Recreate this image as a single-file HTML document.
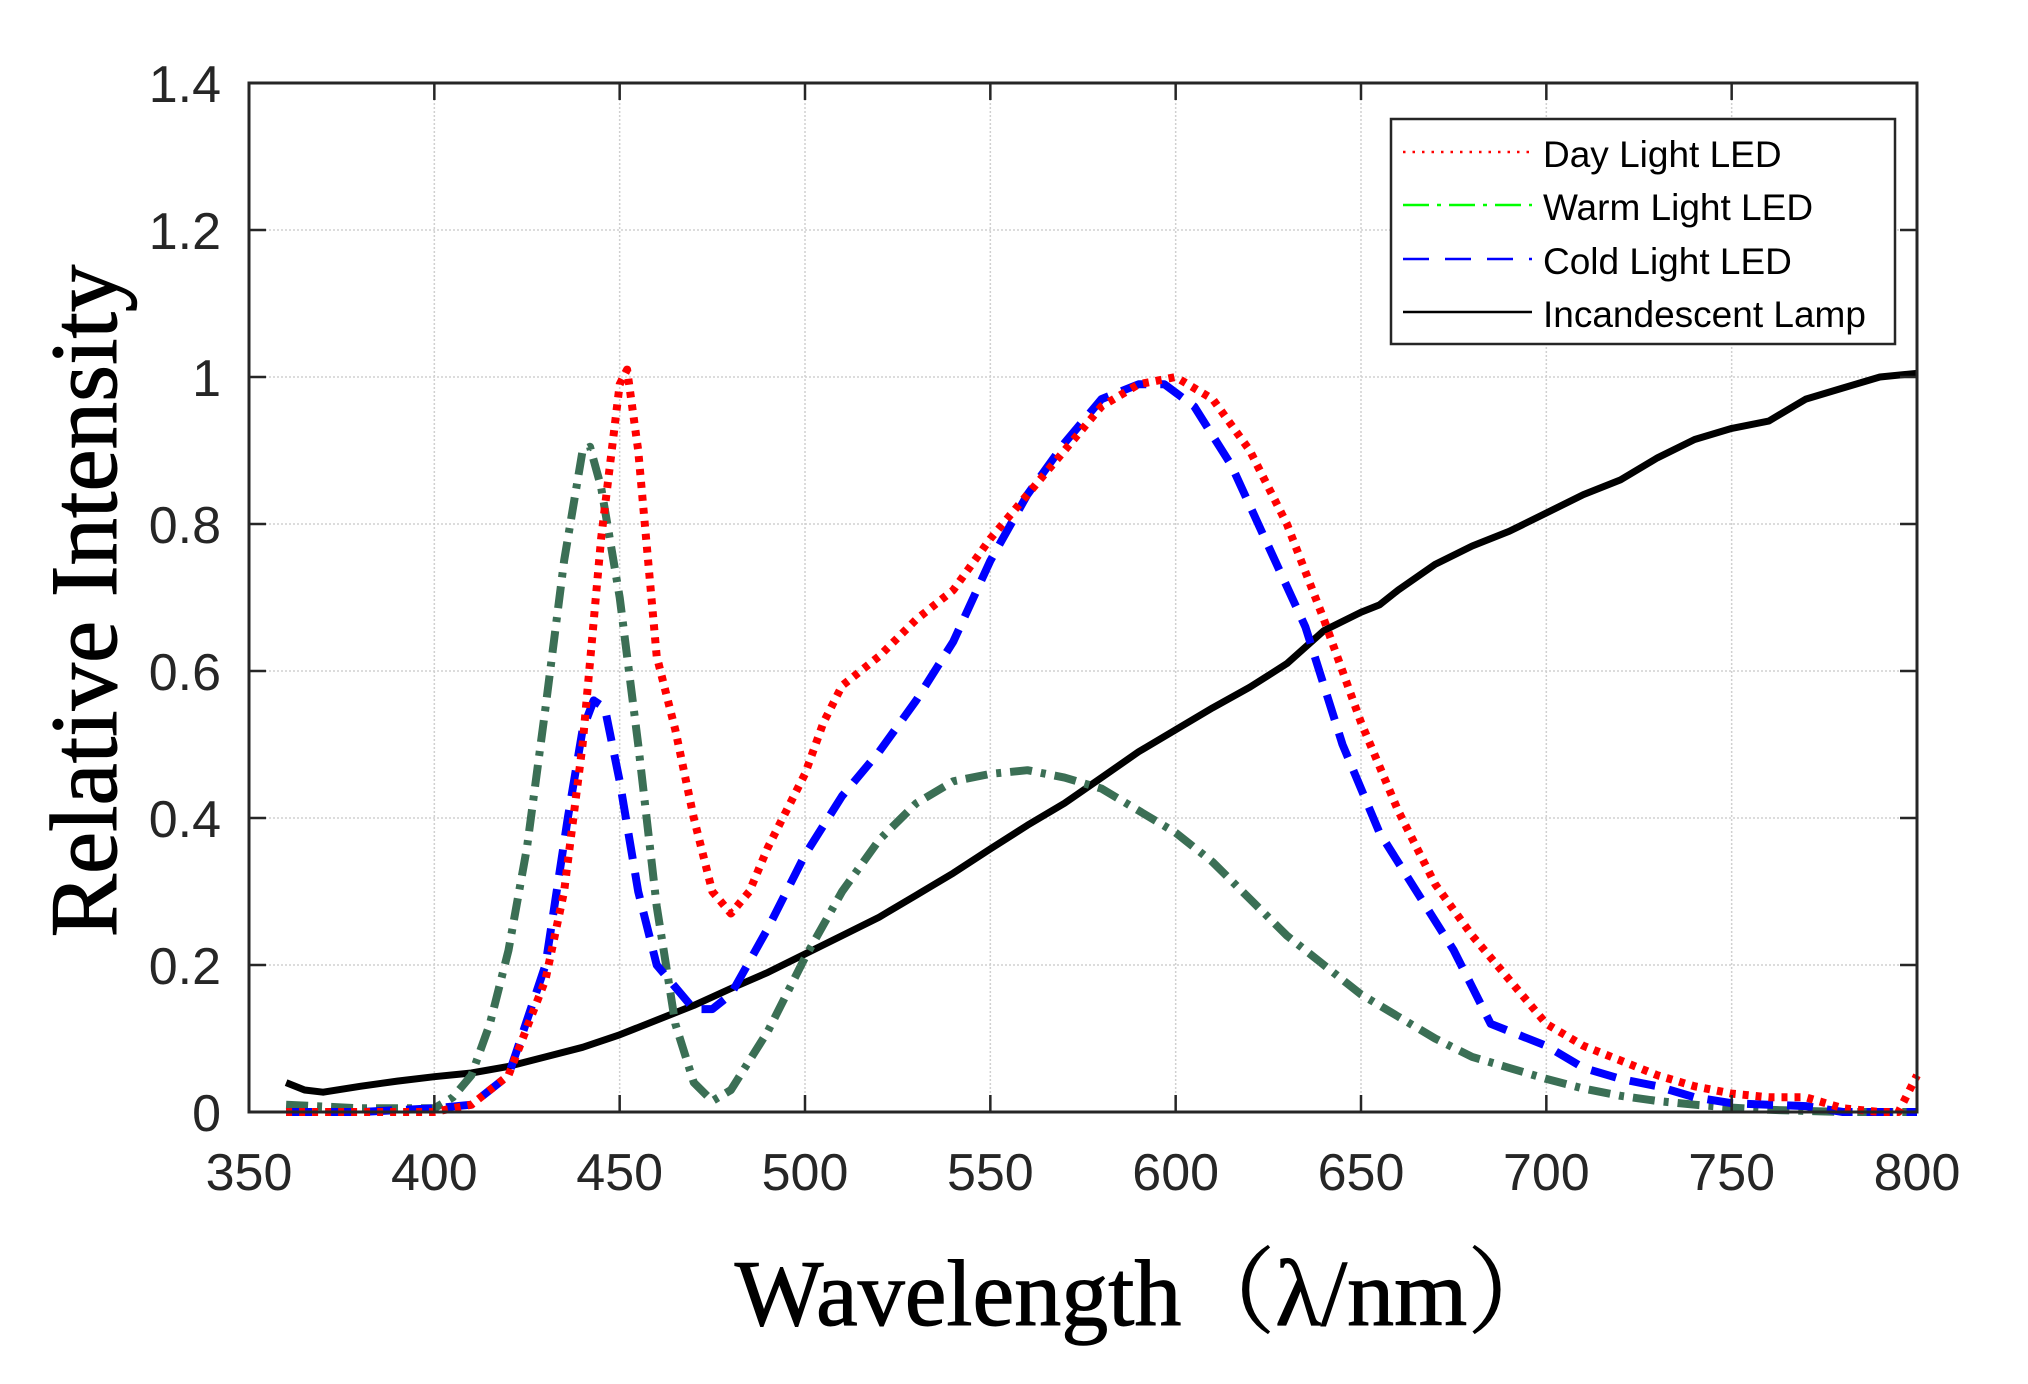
<!DOCTYPE html>
<html><head><meta charset="utf-8"><style>
html,body{margin:0;padding:0;background:#fff;}
svg{display:block;}
</style></head><body>
<svg id="chart" width="2028" height="1384" viewBox="0 0 2028 1384" xmlns="http://www.w3.org/2000/svg">
<g id="grid"></g>
<g id="series"></g>
<g id="axes"></g>
<g id="legend">
  <rect x="1391" y="119" width="504" height="225" fill="#fff" stroke="#262626" stroke-width="2.5"/>
  <line x1="1403" y1="152" x2="1532" y2="152" stroke="#ff0000" stroke-width="2.5" stroke-dasharray="2.5 7"/>
  <text x="1543" y="167" font-family="Liberation Sans, sans-serif" font-size="37">Day Light LED</text>
  <line x1="1403" y1="205" x2="1532" y2="205" stroke="#00ff00" stroke-width="2.5" stroke-dasharray="26 8 4 8"/>
  <text x="1543" y="220" font-family="Liberation Sans, sans-serif" font-size="37">Warm Light LED</text>
  <line x1="1403" y1="259" x2="1532" y2="259" stroke="#0000ff" stroke-width="2.5" stroke-dasharray="26 16"/>
  <text x="1543" y="274" font-family="Liberation Sans, sans-serif" font-size="37">Cold Light LED</text>
  <line x1="1403" y1="312" x2="1532" y2="312" stroke="#000" stroke-width="2.5"/>
  <text x="1543" y="327" font-family="Liberation Sans, sans-serif" font-size="37">Incandescent Lamp</text>
</g>
<text transform="translate(116,601) rotate(-90)" text-anchor="middle" font-family="Liberation Serif, serif" font-size="95" stroke="#000" stroke-width="1">Relative Intensity</text>
<text x="1148" y="1325" text-anchor="middle" font-family="Liberation Serif, 'Noto Serif CJK SC', serif" font-size="94" stroke="#000" stroke-width="1">Wavelength（λ/nm）</text>
</svg>
<script>
const xTicks = [350,400,450,500,550,600,650,700,750,800];
const yTicks = [0,0.2,0.4,0.6,0.8,1,1.2,1.4];
const yTickLabels = ['0','0.2','0.4','0.6','0.8','1','1.2','1.4'];

const dayX = [360,380,400,410,420,430,435,440,445,450,452,455,460,465,470,475,480,485,490,500,505,510,520,530,540,550,560,570,580,590,600,610,620,630,640,650,660,670,680,690,700,710,720,730,740,750,760,770,780,790,795,800];
const dayY = [0,0,0,0.01,0.05,0.18,0.3,0.5,0.78,0.99,1.01,0.9,0.62,0.52,0.4,0.3,0.27,0.3,0.36,0.46,0.53,0.58,0.62,0.67,0.71,0.78,0.84,0.9,0.96,0.99,1.0,0.97,0.9,0.8,0.67,0.53,0.41,0.31,0.24,0.18,0.12,0.09,0.07,0.05,0.035,0.025,0.02,0.02,0.005,0,0,0.05];

const coldX = [360,380,400,410,420,430,436,440,443,446,450,455,460,470,475,480,490,500,510,520,530,540,550,560,570,580,590,597,605,615,625,635,645,655,665,675,680,685,690,700,710,720,730,740,750,760,770,780,800];
const coldY = [0,0,0.005,0.01,0.05,0.2,0.4,0.52,0.56,0.55,0.45,0.3,0.2,0.14,0.14,0.16,0.25,0.35,0.43,0.49,0.56,0.64,0.75,0.84,0.91,0.97,0.99,0.99,0.96,0.88,0.77,0.66,0.5,0.38,0.3,0.22,0.17,0.12,0.11,0.09,0.06,0.045,0.035,0.02,0.012,0.01,0.008,0,0];

const warmX = [360,380,400,405,410,415,420,425,430,435,440,442,445,450,455,460,465,470,475,480,490,500,510,520,530,540,550,560,570,580,590,600,610,620,630,640,650,660,670,680,690,700,710,720,730,740,750,760,780,800];
const warmY = [0.01,0.005,0.005,0.02,0.05,0.12,0.22,0.36,0.55,0.75,0.9,0.905,0.85,0.7,0.5,0.28,0.12,0.04,0.015,0.03,0.11,0.21,0.3,0.37,0.42,0.45,0.46,0.465,0.455,0.44,0.41,0.38,0.34,0.29,0.24,0.2,0.16,0.13,0.1,0.075,0.06,0.045,0.032,0.022,0.015,0.01,0.006,0.003,0,0];

const incX = [360,365,370,380,390,400,410,420,430,440,450,460,470,480,490,500,510,520,530,540,550,560,570,580,590,600,610,620,630,640,650,655,660,670,680,690,700,710,720,730,740,750,760,770,780,790,800];
const incY = [0.04,0.03,0.027,0.035,0.042,0.048,0.053,0.062,0.075,0.088,0.105,0.125,0.145,0.168,0.19,0.215,0.24,0.265,0.295,0.325,0.358,0.39,0.42,0.455,0.49,0.52,0.55,0.578,0.61,0.655,0.68,0.69,0.71,0.745,0.77,0.79,0.815,0.84,0.86,0.89,0.915,0.93,0.94,0.97,0.985,1.0,1.005];

const L=249,R=1917,T=83,B=1112;
const sx = v => L + (v-350)/(800-350)*(R-L);
const sy = v => B - v/1.4*(B-T);
const NS='http://www.w3.org/2000/svg';
function mk(tag, attrs, parent){const e=document.createElementNS(NS,tag);for(const k in attrs)e.setAttribute(k,attrs[k]);parent.appendChild(e);return e;}
const grid=document.getElementById('grid'), axes=document.getElementById('axes'), series=document.getElementById('series');

xTicks.forEach((t,i)=>{
  const x=sx(t);
  if(i>0&&i<xTicks.length-1){const g=mk('line',{x1:x,y1:T,x2:x,y2:B,stroke:'#d0d0d0','stroke-width':1.5,'stroke-dasharray':'2 2'},grid);
  
  }
  const a=mk('line',{x1:x,y1:B,x2:x,y2:B-17,stroke:'#262626','stroke-width':2.5},axes);
  
  
  const b=mk('line',{x1:x,y1:T,x2:x,y2:T+17,stroke:'#262626','stroke-width':2.5},axes);
  
  
  const tx=mk('text',{x:x,y:1190,'text-anchor':'middle','font-family':'Liberation Sans, sans-serif','font-size':52,fill:'#262626'},axes);
  tx.textContent=String(t);
  
  
});
yTicks.forEach((t,i)=>{
  const y=sy(t);
  if(i>0&&i<yTicks.length-1){const g=mk('line',{x1:L,y1:y,x2:R,y2:y,stroke:'#d0d0d0','stroke-width':1.5,'stroke-dasharray':'2 2'},grid);
  
  }
  const a=mk('line',{x1:L,y1:y,x2:L+17,y2:y,stroke:'#262626','stroke-width':2.5},axes);
  
  
  const b=mk('line',{x1:R,y1:y,x2:R-17,y2:y,stroke:'#262626','stroke-width':2.5},axes);
  
  
  const tx=mk('text',{x:221,y:y+19,'text-anchor':'end','font-family':'Liberation Sans, sans-serif','font-size':52,fill:'#262626'},axes);
  tx.textContent=yTickLabels[i];
  
  
});
const frame=mk('rect',{x:L,y:T,width:R-L,height:B-T,fill:'none',stroke:'#262626','stroke-width':3},axes);



function line(xs,ys,style,name){
  const pts=xs.map((x,i)=>sx(x).toFixed(1)+','+sy(ys[i]).toFixed(1)).join(' ');
  const p=mk('polyline',Object.assign({points:pts,fill:'none','stroke-linejoin':'round'},style),series);
  
  
}
line(incX,incY,{stroke:'#000','stroke-width':7},'incandescent-lamp-line');
line(warmX,warmY,{stroke:'#3b6f55','stroke-width':8,'stroke-dasharray':'22 9 5 9'},'warm-light-led-line');
line(coldX,coldY,{stroke:'#0000ff','stroke-width':8,'stroke-dasharray':'26 14'},'cold-light-led-line');
line(dayX,dayY,{stroke:'#ff0000','stroke-width':8,'stroke-dasharray':'6 7'},'day-light-led-line');
</script>
</body></html>
